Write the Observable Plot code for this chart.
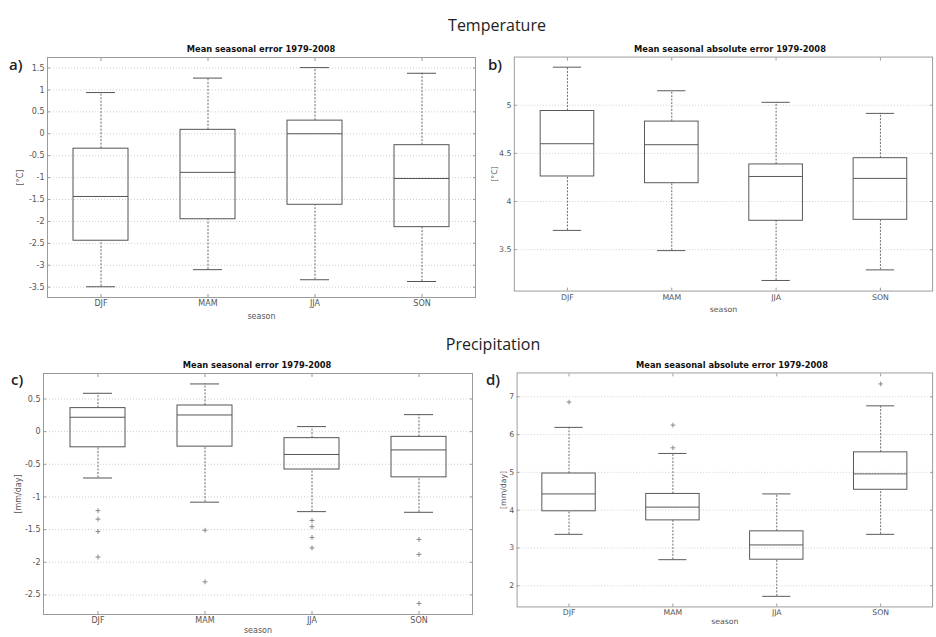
<!DOCTYPE html>
<html>
<head>
<meta charset="utf-8">
<script src="https://cdn.jsdelivr.net/npm/d3@7"></script>
<script src="https://cdn.jsdelivr.net/npm/@observablehq/plot@0.6"></script>
<style>
  html, body { margin: 0; padding: 0; background: #fff; overflow: hidden; }
  #chart { position: relative; width: 936px; height: 637px; overflow: hidden; background: #fff; font-family: "DejaVu Sans", sans-serif; }
  .panel { position: absolute; }
  .head { position: absolute; font-family: "Open Sans", sans-serif; font-size: 16px; color: #222; text-align: center; width: 200px; line-height: 1; }
  .ptitle { position: absolute; font-family: "DejaVu Sans", sans-serif; font-weight: bold; font-size: 8.3px; color: #111; text-align: center; width: 300px; line-height: 1; }
  .letter { position: absolute; font-family: "Open Sans", sans-serif; font-size: 15px; font-weight: 600; color: #222; line-height: 1; }
</style>
</head>
<body>
<div id="chart"></div>
<script>
// ---- data ----
const seasons = ["DJF", "MAM", "JJA", "SON"];

// a) Temperature, mean seasonal error [°C]
const tErrLow  = [-3.49, -3.10, -3.33, -3.37];
const tErrQ1   = [-2.44, -1.95, -1.62, -2.13];
const tErrMed  = [-1.43, -0.88,  0.00, -1.02];
const tErrQ3   = [-0.34,  0.09,  0.30, -0.26];
const tErrHigh = [ 0.94,  1.27,  1.51,  1.38];
const tErrTicks = [-3.5, -3, -2.5, -2, -1.5, -1, -0.5, 0, 0.5, 1, 1.5];

// b) Temperature, mean seasonal absolute error [°C]
const tAbsLow  = [3.70, 3.49, 3.18, 3.29];
const tAbsQ1   = [4.26, 4.19, 3.80, 3.81];
const tAbsMed  = [4.60, 4.59, 4.26, 4.24];
const tAbsQ3   = [4.94, 4.83, 4.385, 4.45];
const tAbsHigh = [5.395, 5.15, 5.03, 4.915];
const tAbsTicks = [3.5, 4, 4.5, 5];

// c) Precipitation, mean seasonal error [mm/day]
const pErrLow  = [-0.71, -1.08, -1.225, -1.235];
const pErrQ1   = [-0.24, -0.23, -0.58, -0.70];
const pErrMed  = [ 0.22,  0.255, -0.35, -0.28];
const pErrQ3   = [ 0.36,  0.40, -0.10, -0.08];
const pErrHigh = [ 0.587, 0.73,  0.077, 0.26];
const pErrOutSeason = ["DJF", "DJF", "DJF", "DJF", "MAM", "MAM", "JJA", "JJA", "JJA", "JJA", "SON", "SON", "SON"];
const pErrOutValue  = [-1.21, -1.34, -1.53, -1.92, -1.51, -2.30, -1.36, -1.455, -1.62, -1.78, -1.65, -1.88, -2.63];
const pErrTicks = [-2.5, -2, -1.5, -1, -0.5, 0, 0.5];

// d) Precipitation, mean seasonal absolute error [mm/day]
const pAbsLow  = [3.36, 2.69, 1.72, 3.36];
const pAbsQ1   = [3.97, 3.73, 2.69, 4.54];
const pAbsMed  = [4.43, 4.08, 3.08, 4.96];
const pAbsQ3   = [4.97, 4.43, 3.44, 5.53];
const pAbsHigh = [6.19, 5.50, 4.43, 6.76];
const pAbsOutSeason = ["DJF", "MAM", "MAM", "SON"];
const pAbsOutValue  = [6.86, 6.25, 5.65, 7.34];
const pAbsTicks = [2, 3, 4, 5, 6, 7];

// ---- helpers ----
function rowsOf(low, q1, med, q3, high) {
  return seasons.map((s, i) => ({season: s, low: low[i], q1: q1[i], med: med[i], q3: q3[i], high: high[i]}));
}
function outsOf(ss, vs) { return ss.map((s, i) => ({season: s, v: vs[i]})); }
const fmt = d => String(d);

function panel(opts) {
  const {rows, outs, ticks, domain, ylabel, width, height, mt, mb, ml, mr, ylabelOffset, xlabelOffset} = opts;
  const marks = [
    Plot.gridY(ticks, {stroke: "#cfcfcf", strokeOpacity: 1, strokeDasharray: "1,2"}),
    Plot.axisY(ticks, {anchor: "left", tickSize: -3, tickPadding: 6, tickFormat: fmt, fontSize: 8, fill: "#555", stroke: "#999",
      label: ylabel, labelAnchor: "center", labelOffset: ylabelOffset, labelArrow: "none"}),
    Plot.axisY(ticks, {anchor: "right", tickSize: -3, tickFormat: () => "", stroke: "#999", label: null}),
    Plot.axisX({anchor: "bottom", tickSize: -3, tickPadding: 6, fontSize: 8, fill: "#555", stroke: "#999",
      label: "season", labelAnchor: "center", labelOffset: xlabelOffset, labelArrow: "none"}),
    Plot.axisX({anchor: "top", tickSize: -3, tickFormat: () => "", stroke: "#999", label: null}),
    Plot.frame({stroke: "#9a9a9a"}),
    Plot.ruleX(rows, {x: "season", y1: "q3", y2: "high", stroke: "#666", strokeDasharray: "2,1.5"}),
    Plot.ruleX(rows, {x: "season", y1: "low", y2: "q1", stroke: "#666", strokeDasharray: "2,1.5"}),
    Plot.tickY(rows, {x: "season", y: "high", stroke: "#555", insetLeft: 39, insetRight: 39}),
    Plot.tickY(rows, {x: "season", y: "low", stroke: "#555", insetLeft: 39, insetRight: 39}),
    Plot.barY(rows, {x: "season", y1: "q1", y2: "q3", fill: "none", stroke: "#555", insetLeft: 26, insetRight: 26}),
    Plot.tickY(rows, {x: "season", y: "med", stroke: "#555", insetLeft: 26, insetRight: 26})
  ];
  if (outs) marks.push(Plot.dot(outs, {x: "season", y: "v", symbol: "plus", r: 1.7, stroke: "#888", strokeWidth: 1}));
  return Plot.plot({
    width, height,
    marginTop: mt, marginBottom: mb, marginLeft: ml, marginRight: mr,
    style: {fontFamily: "DejaVu Sans, sans-serif", fontSize: "8.5px", color: "#444", background: "transparent", overflow: "visible"},
    x: {type: "band", domain: seasons, padding: 0},
    y: {domain},
    marks
  });
}

const chart = document.getElementById("chart");
function place(el, left, top) {
  const d = document.createElement("div");
  d.className = "panel";
  d.style.left = left + "px";
  d.style.top = top + "px";
  d.appendChild(el);
  chart.appendChild(d);
}
function addText(cls, text, left, top) {
  const d = document.createElement("div");
  d.className = cls;
  d.textContent = text;
  d.style.left = left + "px";
  d.style.top = top + "px";
  chart.appendChild(d);
}

// a
place(panel({rows: rowsOf(tErrLow, tErrQ1, tErrMed, tErrQ3, tErrHigh), ticks: tErrTicks, domain: [-3.735, 1.74],
  ylabel: "[°C]", width: 480, height: 290, mt: 17, mb: 33, ml: 47, mr: 5, ylabelOffset: 30, xlabelOffset: 21}), 0, 40);
// b
place(panel({rows: rowsOf(tAbsLow, tAbsQ1, tAbsMed, tAbsQ3, tAbsHigh), ticks: tAbsTicks, domain: [3.07, 5.50],
  ylabel: "[°C]", width: 480, height: 290, mt: 17, mb: 33, ml: 47, mr: 4, ylabelOffset: 23, xlabelOffset: 21}), 468, 40);
// c
place(panel({rows: rowsOf(pErrLow, pErrQ1, pErrMed, pErrQ3, pErrHigh), outs: outsOf(pErrOutSeason, pErrOutValue), ticks: pErrTicks, domain: [-2.80, 0.89],
  ylabel: "[mm/day]", width: 476, height: 290, mt: 18, mb: 31, ml: 43, mr: 4, ylabelOffset: 28, xlabelOffset: 18}), 0, 355);
// d
place(panel({rows: rowsOf(pAbsLow, pAbsQ1, pAbsMed, pAbsQ3, pAbsHigh), outs: outsOf(pAbsOutSeason, pAbsOutValue), ticks: pAbsTicks, domain: [1.44, 7.63],
  ylabel: "[mm/day]", width: 480, height: 290, mt: 18, mb: 31, ml: 48, mr: 4, ylabelOffset: 17, xlabelOffset: 18}), 470, 355);

// headings and titles
addText("head", "Temperature", 397, 17);
addText("head", "Precipitation", 393, 336);
addText("ptitle", "Mean seasonal error 1979-2008", 111, 45);
addText("ptitle", "Mean seasonal absolute error 1979-2008", 580, 45);
addText("ptitle", "Mean seasonal error 1979-2008", 107, 361);
addText("ptitle", "Mean seasonal absolute error 1979-2008", 582, 361);
addText("letter", "a)", 9, 57);
addText("letter", "b)", 488, 57);
addText("letter", "c)", 11, 372);
addText("letter", "d)", 486, 372);
</script>
</body>
</html>
